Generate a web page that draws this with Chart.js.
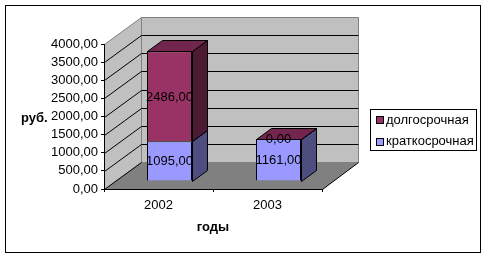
<!DOCTYPE html>
<html>
<head>
<meta charset="utf-8">
<script src="https://cdn.jsdelivr.net/npm/chart.js@4.4.1/dist/chart.umd.min.js"></script>
<style>
  html, body { margin: 0; padding: 0; background: #fff; }
  #wrap { width: 487px; height: 259px; }
</style>
</head>
<body>
<div id="wrap"><canvas id="grafica" width="487" height="259"></canvas></div>
<script>
//--------------------- Datos ---------------------
const anios = ['2002', '2003'];
const seriesNombres = ['краткосрочная', 'долгосрочная'];
const kratkosrochnaya = [1095, 1161];
const dolgosrochnaya = [2486, 0];
const yMax = 4000;
const yPaso = 500;

// profundidad 3D (px)
const DX = 37, DY = 27;      // pared del fondo
const BX = 11, BY = 8;       // cara frontal de las barras
const PX = 15, PY = 11;      // fondo de la barra

const fmt = v => v.toFixed(2).replace('.', ',');

function poly(ctx, pts, fill, stroke) {
  ctx.beginPath();
  ctx.moveTo(pts[0][0], pts[0][1]);
  for (let i = 1; i < pts.length; i++) ctx.lineTo(pts[i][0], pts[i][1]);
  ctx.closePath();
  if (fill) { ctx.fillStyle = fill; ctx.fill(); }
  if (stroke) { ctx.strokeStyle = stroke; ctx.lineWidth = 1; ctx.stroke(); }
}

//--------------------- Plugin 3D ---------------------
const efecto3d = {
  id: 'efecto3d',
  beforeDraw(chart) {
    const { ctx, chartArea: a, scales: { y } } = chart;
    const L = a.left + 0.5, R = a.right + 0.5, T = a.top + 0.5, B = a.bottom + 0.5;
    ctx.save();
    ctx.fillStyle = '#fff';
    ctx.fillRect(0, 0, chart.width, chart.height);
    ctx.strokeStyle = '#000';
    ctx.lineWidth = 1;
    ctx.strokeRect(5.5, 5.5, 475, 247);

    // pared izquierda
    poly(ctx, [[L, T], [L + DX, T - DY], [L + DX, B - DY], [L, B]], '#c0c0c0', '#808080');
    // pared del fondo
    poly(ctx, [[L + DX, T - DY], [R + DX - 1, T - DY], [R + DX - 1, B - DY], [L + DX, B - DY]], '#c0c0c0', '#808080');
    // piso
    poly(ctx, [[L, B], [R, B], [R + DX - 1, B - DY], [L + DX, B - DY]], '#808080', null);
    ctx.strokeStyle = '#000';
    ctx.beginPath();
    ctx.moveTo(L, B); ctx.lineTo(L + DX, B - DY);
    ctx.moveTo(R, B); ctx.lineTo(R + DX - 1, B - DY);
    ctx.stroke();

    // lineas de cuadricula
    ctx.beginPath();
    y.ticks.forEach(t => {
      if (t.value <= 0 || t.value >= yMax) return;
      const py = Math.round(y.getPixelForValue(t.value)) + 0.5;
      ctx.moveTo(L, py);
      ctx.lineTo(L + DX, py - DY);
      ctx.lineTo(R + DX - 1, py - DY);
    });
    ctx.stroke();
    ctx.restore();
  },
  beforeDatasetsDraw(chart) {
    chart.ctx.save();
    chart.ctx.translate(BX, -BY);
  },
  afterDatasetsDraw(chart) {
    const ctx = chart.ctx;
    const n = chart.data.datasets.length;
    chart.data.datasets.forEach((ds, di) => {
      const meta = chart.getDatasetMeta(di);
      meta.data.forEach(el => {
        const { x, y, base, width } = el.getProps(['x', 'y', 'base', 'width'], true);
        const l = Math.round(x - width / 2) + 0.5, r = Math.round(x + width / 2) + 0.5;
        const t = Math.round(y) + 0.5, b = Math.round(base) + 0.5;
        // cara lateral
        poly(ctx, [[r, t], [r + PX, t - PY], [r + PX, b - PY], [r, b]], ds.sideColor, '#000');
        // cara superior (solo la serie de arriba)
        if (di === n - 1) {
          poly(ctx, [[l, t], [l + PX, t - PY], [r + PX, t - PY], [r, t]], ds.topColor, '#000');
        }
      });
    });
    // etiquetas de datos
    ctx.fillStyle = '#000';
    ctx.font = '13px "Liberation Sans", Arial, sans-serif';
    ctx.textAlign = 'center';
    ctx.textBaseline = 'middle';
    chart.data.datasets.forEach((ds, di) => {
      chart.getDatasetMeta(di).data.forEach((el, i) => {
        const { x, y, base } = el.getProps(['x', 'y', 'base'], true);
        ctx.fillText(fmt(ds.data[i]), x, (y + base) / 2 + 1);
      });
    });
    ctx.restore();
  },
  afterDraw(chart) {
    const ctx = chart.ctx;
    ctx.save();
    // titulo eje Y
    ctx.fillStyle = '#000';
    ctx.font = 'bold 13px "Liberation Sans", Arial, sans-serif';
    ctx.textAlign = 'left';
    ctx.textBaseline = 'middle';
    ctx.fillText('руб.', 21, 118);

    // leyenda (orden inverso, como Excel)
    ctx.strokeStyle = '#000';
    ctx.lineWidth = 1;
    ctx.fillStyle = '#fff';
    ctx.fillRect(370.5, 109.5, 106, 41);
    ctx.strokeRect(370.5, 109.5, 106, 41);
    ctx.font = '13px "Liberation Sans", Arial, sans-serif';
    const items = chart.data.datasets.slice().reverse();
    items.forEach((ds, i) => {
      const cy = 120 + i * 21.5;
      ctx.fillStyle = ds.backgroundColor;
      ctx.fillRect(376.5, Math.round(cy) - 3.5, 7, 7);
      ctx.strokeRect(376.5, Math.round(cy) - 3.5, 7, 7);
      ctx.fillStyle = '#000';
      ctx.fillText(ds.label, 386, cy);
    });
    ctx.restore();
  }
};

//--------------------- Gráfica ---------------------
Chart.defaults.font.family = '"Liberation Sans", Arial, sans-serif';
Chart.defaults.font.size = 13;
Chart.defaults.color = '#000';

const ctxG = document.getElementById('grafica').getContext('2d');
const grafica = new Chart(ctxG, {
  type: 'bar',
  data: {
    labels: anios,
    datasets: [
      {
        label: seriesNombres[0],
        data: kratkosrochnaya,
        backgroundColor: '#9999ff',
        sideColor: '#4d4d80',
        topColor: '#7a7acc',
        borderColor: '#000',
        borderWidth: 1,
        clip: false
      },
      {
        label: seriesNombres[1],
        data: dolgosrochnaya,
        backgroundColor: '#993366',
        sideColor: '#4d1a33',
        topColor: '#73264d',
        borderColor: '#000',
        borderWidth: 1,
        clip: false
      }
    ]
  },
  options: {
    responsive: false,
    animation: false,
    layout: { padding: { left: 0, top: 44, right: 165, bottom: 0 } },
    plugins: { legend: { display: false }, tooltip: { enabled: false } },
    datasets: { bar: { categoryPercentage: 1, barPercentage: 0.413 } },
    scales: {
      x: {
        stacked: true,
        offset: true,
        grid: { display: true, offset: true, drawOnChartArea: false, drawTicks: true, tickLength: 3, color: '#000' },
        border: { display: true, color: '#000' },
        ticks: { padding: 6 },
        title: { display: true, text: 'годы', font: { weight: 'bold', size: 13 }, padding: { top: 0, bottom: 24 } },
        afterFit: s => { s.height = 70; }
      },
      y: {
        stacked: true,
        min: 0,
        max: yMax,
        grid: { display: true, drawOnChartArea: false, drawTicks: true, tickLength: 3, color: '#000' },
        border: { display: true, color: '#000' },
        ticks: { stepSize: yPaso, padding: 3, autoSkip: false, callback: v => fmt(v) },
        afterFit: s => { s.width = 104; }
      }
    }
  },
  plugins: [efecto3d]
});
</script>
</body>
</html>
